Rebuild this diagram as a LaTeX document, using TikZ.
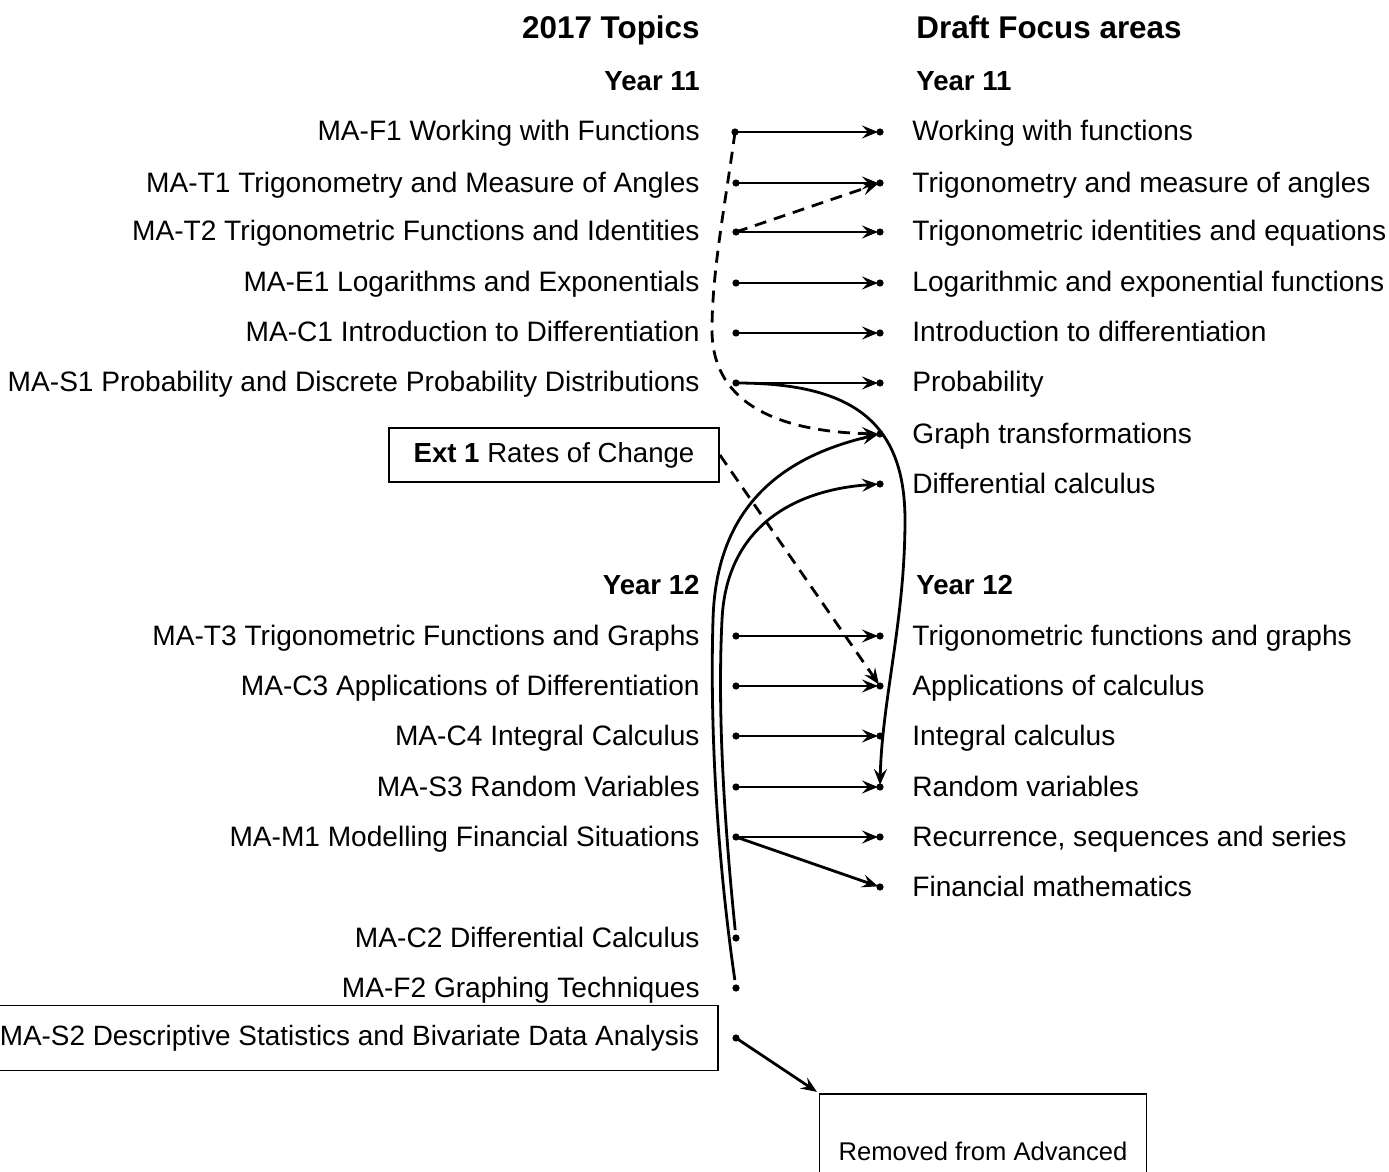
\documentclass[tikz,border=0pt]{standalone}
\usepackage{fontspec}
\setmainfont{Liberation Sans}
\usetikzlibrary{arrows.meta}
\begin{document}
\begin{tikzpicture}[x=0.5pt,y=-0.5pt,
  lt/.style={anchor=base east, inner sep=0pt, font=\fontsize{14.05}{16}\selectfont},
  rt/.style={anchor=base west, inner sep=0pt, font=\fontsize{14.05}{16}\selectfont},
  hdl/.style={anchor=base east, inner sep=0pt, font=\bfseries\fontsize{15.7}{19}\selectfont},
  hdr/.style={anchor=base west, inner sep=0pt, font=\bfseries\fontsize{15.7}{19}\selectfont},
  yrl/.style={anchor=base east, inner sep=0pt, font=\bfseries\fontsize{13.8}{16}\selectfont},
  yrr/.style={anchor=base west, inner sep=0pt, font=\bfseries\fontsize{13.8}{16}\selectfont},
  boxed/.style={draw, line width=0.9pt, font=\fontsize{14.05}{16}\selectfont},
  arr/.style={-{Stealth[length=8pt,width=6.5pt,inset=3pt]}, line width=1.4pt, shorten >=1pt},
  dsh/.style={dash pattern=on 6pt off 4pt},
  dotfill/.style={fill=black}
]
\useasboundingbox (0,0) rectangle (1389,1172);

% headers
\node[hdl] (hL) at (700,39) {2017 Topics};
\node[hdr] (hR) at (916,39) {Draft Focus areas};
\node[yrl] (y11L) at (700,91) {Year 11};
\node[yrr] (y11R) at (916,91) {Year 11};
\node[yrl] (y12L) at (700,594) {Year 12};
\node[yrr] (y12R) at (916,594) {Year 12};

% left texts
\node[lt] (tF1) at (700,141) {MA-F1 Working with Functions};
\node[lt] (tT1) at (700,192) {MA-T1 Trigonometry and Measure of Angles};
\node[lt] (tT2) at (700,241) {MA-T2 Trigonometric Functions and Identities};
\node[lt] (tE1) at (700,292) {MA-E1 Logarithms and Exponentials};
\node[lt] (tC1) at (700,342) {MA-C1 Introduction to Differentiation};
\node[lt] (tS1) at (700,392) {MA-S1 Probability and Discrete Probability Distributions};
\node[lt] (tT3) at (700,645) {MA-T3 Trigonometric Functions and Graphs};
\node[lt] (tC3) at (700,695) {MA-C3 Applications of Differentiation};
\node[lt] (tC4) at (700,745) {MA-C4 Integral Calculus};
\node[lt] (tS3) at (700,796) {MA-S3 Random Variables};
\node[lt] (tM1) at (700,846) {MA-M1 Modelling Financial Situations};
\node[lt] (tC2) at (700,947) {MA-C2 Differential Calculus};
\node[lt] (tF2) at (700,997) {MA-F2 Graphing Techniques};

% boxed
\node[boxed, minimum width=165pt, minimum height=27pt, inner sep=0pt, font=\fontsize{13.8}{16}\selectfont] (ext) at (554,455) {\textbf{Ext 1} Rates of Change};
\node[boxed, anchor=east, inner xsep=9.5pt, minimum height=32.5pt, font=\fontsize{13.95}{16}\selectfont] (tS2) at (719,1038) {MA-S2 Descriptive Statistics and Bivariate Data Analysis};
\node[boxed, anchor=north, minimum width=163.5pt, minimum height=57pt, inner sep=0pt, font=\fontsize{12.8}{15}\selectfont] (rem) at (983,1093) {Removed from Advanced};

% right texts
\node[rt] (rwf) at (912,141) {Working with functions};
\node[rt] (rtm) at (912,192) {Trigonometry and measure of angles};
\node[rt] (rti) at (912,241) {Trigonometric identities and equations};
\node[rt] (rle) at (912,292) {Logarithmic and exponential functions};
\node[rt] (rid) at (912,342) {Introduction to differentiation};
\node[rt] (rpr) at (912,392) {Probability};
\node[rt] (rgt) at (912,443) {Graph transformations};
\node[rt] (rdc) at (912,493) {Differential calculus};
\node[rt] (rtf) at (912,645) {Trigonometric functions and graphs};
\node[rt] (rac) at (912,695) {Applications of calculus};
\node[rt] (ric) at (912,745) {Integral calculus};
\node[rt] (rrv) at (912,796) {Random variables};
\node[rt] (rrs) at (912,846) {Recurrence, sequences and series};
\node[rt] (rfm) at (912,896) {Financial mathematics};

% dot coordinates
\coordinate (dF1) at (735,132);
\coordinate (dT1) at (736,183);
\coordinate (dT2) at (736,232);
\coordinate (dE1) at (736,283);
\coordinate (dC1) at (736,333);
\coordinate (dS1) at (736,383);
\coordinate (dT3) at (736,636);
\coordinate (dC3) at (736,686);
\coordinate (dC4) at (736,736);
\coordinate (dS3) at (736,787);
\coordinate (dM1) at (736,837);
\coordinate (dC2) at (736,938);
\coordinate (dF2) at (736,988);
\coordinate (dS2) at (736,1038);

\coordinate (ewf) at (880,132);
\coordinate (etm) at (880,183);
\coordinate (eti) at (880,232);
\coordinate (ele) at (880,283);
\coordinate (eid) at (880,333);
\coordinate (epr) at (880,383);
\coordinate (egt) at (880,434);
\coordinate (edc) at (880,484);
\coordinate (etf) at (880,636);
\coordinate (eac) at (880,686);
\coordinate (eic) at (880,736);
\coordinate (erv) at (880,787);
\coordinate (ers) at (880,837);
\coordinate (efm) at (880,887);

\foreach \p in {dF1,dT1,dT2,dE1,dC1,dS1,dT3,dC3,dC4,dS3,dM1,dC2,dF2,dS2,
                ewf,etm,eti,ele,eid,epr,egt,edc,etf,eac,eic,erv,ers,efm}
  \fill[dotfill] (\p) circle[radius=1.8pt];

% straight arrows
\draw[arr] (dF1) -- (ewf);
\draw[arr] (dT1) -- (etm);
\draw[arr] (dT2) -- (eti);
\draw[arr] (dE1) -- (ele);
\draw[arr] (dC1) -- (eid);
\draw[arr] (dS1) -- (epr);
\draw[arr] (dT3) -- (etf);
\draw[arr] (dC3) -- (eac);
\draw[arr] (dC4) -- (eic);
\draw[arr] (dS3) -- (erv);
\draw[arr] (dM1) -- (ers);
\draw[arr] (dM1) -- (efm);

% dashed arrows
\draw[arr,dsh] (dT2) -- (etm);
\draw[arr,dsh] (dF1) .. controls (726,200) and (712,270) .. (712,330)
   .. controls (712,410) and (790,432) .. (egt);
\draw[arr,dsh] (ext.east) -- (eac);

% curved arrows
\draw[arr] (dS1) .. controls (850,383) and (905,420) .. (905,520)
   .. controls (905,620) and (882,700) .. (erv);
\draw[arr, shorten <=4pt] (dC2) .. controls (722,800) and (718,700) .. (722,620)
   .. controls (726,530) and (790,490) .. (edc);
\draw[arr, shorten <=4pt] (dF2) .. controls (716,850) and (710,720) .. (713,620)
   .. controls (716,500) and (790,455) .. (egt);

% removed
\draw[arr] (dS2) -- (rem.north west);
\end{tikzpicture}
\end{document}
